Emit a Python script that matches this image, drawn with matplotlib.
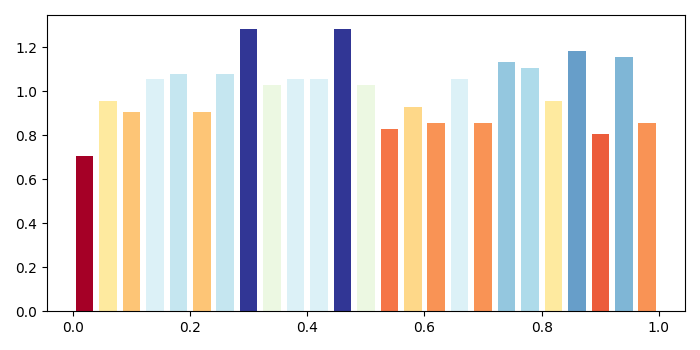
import numpy as np
import matplotlib
matplotlib.use('Agg')
import matplotlib.pyplot as plt
from matplotlib import cm, colors

# bar heights
heights = [0.705, 0.955, 0.905, 1.055, 1.08, 0.905, 1.08, 1.283, 1.03,
           1.055, 1.055, 1.283, 1.03, 0.828, 0.928, 0.855, 1.055, 0.855,
           1.133, 1.106, 0.955, 1.183, 0.805, 1.156, 0.855]

n = len(heights)
x = (np.arange(n) + 0.5) / n

norm = colors.Normalize(min(heights), max(heights))
bar_colors = cm.RdYlBu(norm(heights))

fig, ax = plt.subplots(figsize=(7, 3.5), dpi=100)
ax.bar(x, heights, width=0.03, color=bar_colors)
fig.tight_layout()
fig.savefig('out.png')
